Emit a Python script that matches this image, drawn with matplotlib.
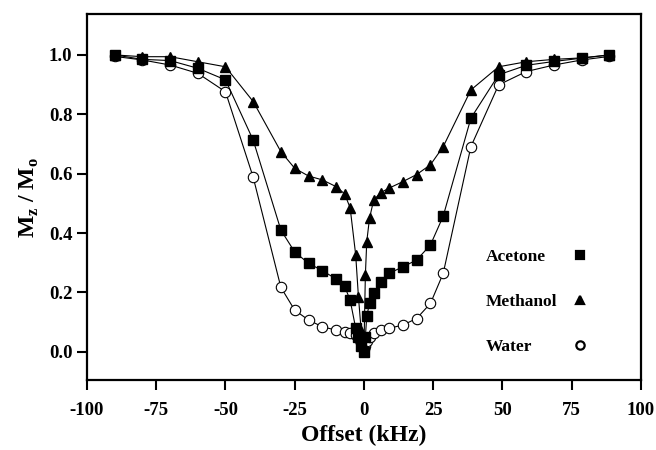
import matplotlib
matplotlib.use("Agg")
import matplotlib.pyplot as plt
from matplotlib.lines import Line2D

# offsets (kHz)
offset = [-90, -80, -70, -60, -50, -40, -30, -25, -20, -15, -10, -7, -5, -3, -2, -1, 0,
          0.5, 1, 2, 3.5, 6, 9, 14, 19, 24, 28.6, 38.6, 48.6, 58.6, 68.6, 78.6, 88.6]

acetone = [1.0, 0.985, 0.981, 0.955, 0.916, 0.713, 0.41, 0.336, 0.298, 0.273, 0.245, 0.221, 0.174,
           0.08, 0.05, 0.02, 0.0,
           0.05, 0.12, 0.163, 0.197, 0.235, 0.264, 0.286, 0.309, 0.36, 0.457, 0.787, 0.933,
           0.965, 0.978, 0.989, 1.0]

methanol = [1.0, 0.994, 0.994, 0.977, 0.96, 0.843, 0.674, 0.618, 0.592, 0.579, 0.556, 0.532, 0.485,
            0.327, 0.185, 0.07, 0.02,
            0.258, 0.371, 0.45, 0.511, 0.536, 0.551, 0.573, 0.597, 0.63, 0.691, 0.882, 0.96,
            0.977, 0.985, 0.99, 1.0]

water = [0.995, 0.983, 0.966, 0.938, 0.876, 0.588, 0.217, 0.14, 0.107, 0.084, 0.073, 0.067, 0.062,
         0.055, 0.045, 0.03, 0.01,
         0.02, 0.035, 0.05, 0.062, 0.073, 0.079, 0.09, 0.112, 0.163, 0.264, 0.691, 0.899,
         0.944, 0.966, 0.983, 0.995]

names = ["Acetone", "Methanol", "Water"]
xticks = [-100, -75, -50, -25, 0, 25, 50, 75, 100]
yticks = [0.0, 0.2, 0.4, 0.6, 0.8, 1.0]

plt.rcParams["font.family"] = "Liberation Serif"
plt.rcParams["font.weight"] = "bold"
plt.rcParams["mathtext.fontset"] = "custom"
plt.rcParams["mathtext.rm"] = "Liberation Serif:bold"
plt.rcParams["mathtext.bf"] = "Liberation Serif:bold"

fig = plt.figure(figsize=(6.56, 4.5), dpi=100)
ax = fig.add_axes([0.1326, 0.1556, 0.8445, 0.8134])

styles = {
    "Acetone": dict(marker="s", ms=6.5, mfc="black"),
    "Methanol": dict(marker="^", ms=7.5, mfc="black"),
    "Water": dict(marker="o", ms=7.5, mfc="white"),
}

ax.plot(offset, water, color="black", lw=0.8, mec="black", mew=0.8, **styles["Water"])
ax.plot(offset, acetone, color="black", lw=0.8, mec="black", **styles["Acetone"])
ax.plot(offset, methanol, color="black", lw=0.8, mec="black", **styles["Methanol"])

ax.set_xlim(-100, 100)
ax.set_ylim(-0.095, 1.138)
ax.set_xticks(xticks)
ax.set_xticklabels([str(t) for t in xticks])
ax.set_yticks(yticks)
ax.set_yticklabels(["%.1f" % t for t in yticks])
ax.tick_params(direction="out", length=7, width=1.5, labelsize=13.5, top=False, right=False)
ax.tick_params(axis="x", pad=9)
for s in ax.spines.values():
    s.set_linewidth(1.6)

ax.set_xlabel("Offset (kHz)", fontsize=17, fontweight="bold", labelpad=4)
ax.set_ylabel(r"M$_\mathrm{z}$ / M$_\mathrm{o}$", fontsize=17, fontweight="bold", labelpad=6)

# legend: names in one column, markers in a second column
blank = Line2D([], [], linestyle="none", marker="none")
handles = [blank] * len(names)
labels = list(names)
for n in names:
    st = styles[n]
    handles.append(Line2D([], [], linestyle="none", color="black", mec="black",
                          marker=st["marker"], ms=st["ms"] * 0.8, mfc=st["mfc"], mew=1.6))
    labels.append("")
ax.legend(handles, labels, ncol=2, loc="center", bbox_to_anchor=(0.805, 0.213),
          frameon=False, handlelength=0, handletextpad=0, columnspacing=1.3,
          labelspacing=1.65, prop={"family": "Liberation Serif", "weight": "bold", "size": 12.5})

plt.savefig("out.png", dpi=100)
